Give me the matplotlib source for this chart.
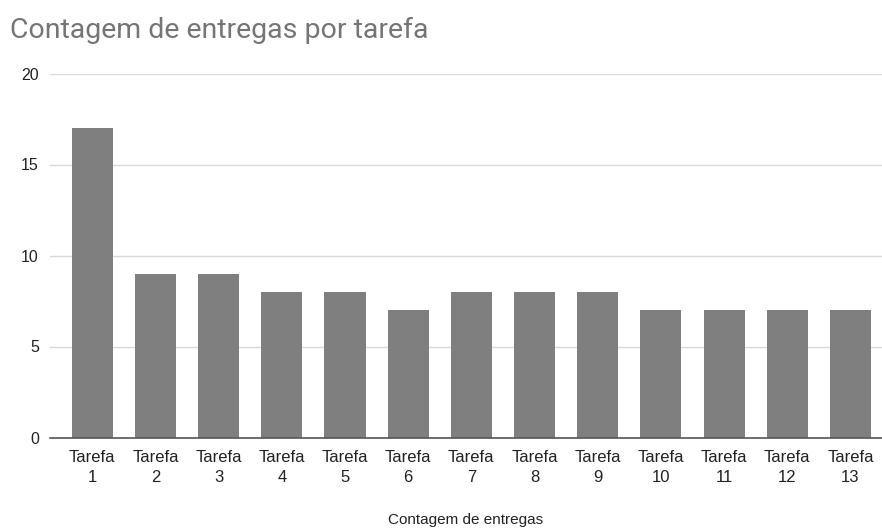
import matplotlib
matplotlib.use('Agg')
import matplotlib.pyplot as plt

# data
tarefas = [f"Tarefa\n{i}" for i in range(1, 14)]
entregas = [17, 9, 9, 8, 8, 7, 8, 8, 8, 7, 7, 7, 7]

plt.rcParams['font.family'] = ['Liberation Sans', 'DejaVu Sans']

fig = plt.figure(figsize=(8.82, 5.32), dpi=100)
ax = fig.add_axes([50/882, 1-437.5/532, 1-50/882, (437.5-73.5)/532])

x = list(range(len(tarefas)))
ax.bar(x, entregas, width=0.65, color='#7f7f7f', zorder=3)

ax.set_ylim(0, 20)
ax.set_yticks([0, 5, 10, 15, 20])
ax.set_xlim(-0.67, 12.5)
ax.set_xticks(x)
ax.set_xticklabels(tarefas, fontsize=12, color='#222222', linespacing=1.45)
ax.tick_params(axis='y', labelsize=11.5, labelcolor='#222222', length=0, pad=8)
ax.tick_params(axis='x', length=0, pad=9)
ax.grid(axis='y', color='#d9d9d9', lw=1, zorder=0)
for s in ['top', 'right', 'left']:
    ax.spines[s].set_visible(False)
ax.spines['bottom'].set_color('#555555')
ax.spines['bottom'].set_linewidth(1.2)
ax.spines['bottom'].set_zorder(4)

fig.text(466/882, 1-520/532, "Contagem de entregas", fontsize=11, color='#222222',
         ha='center', va='center')
fig.text(10/882, 1-30/532, "Contagem de entregas por tarefa", fontsize=20.5,
         color='#757575', va='center', ha='left', family=['Roboto', 'DejaVu Sans'])

fig.savefig('out.png', dpi=100)
